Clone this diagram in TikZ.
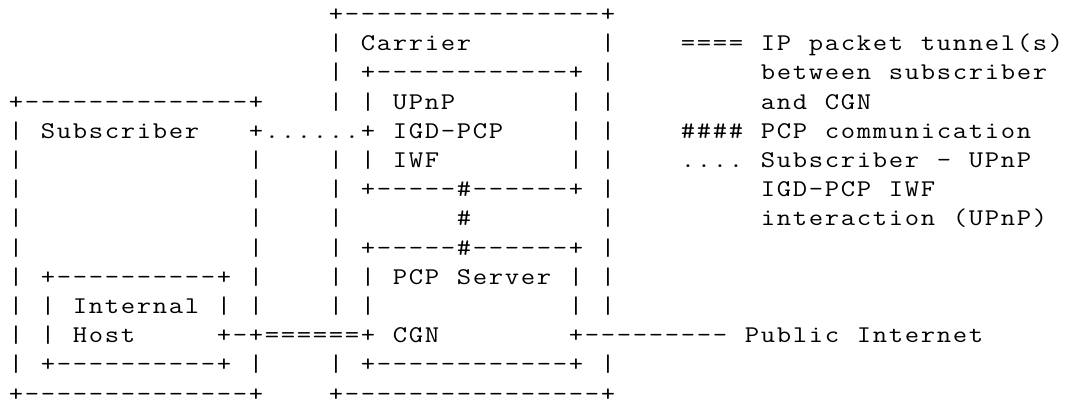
\documentclass[tikz,border=0pt]{standalone}
\usepackage{graphicx}
\makeatletter
% Monospaced grid: every character sits centred in a cell of fixed width,
% slightly widened so the letters fill their cells like a typewriter face.
\newdimen\cellw \cellw=8pt
\def\gt@stop{\gt@stop}
\newcommand\gridtext[1]{\gt@next#1\gt@stop}
\def\gt@next#1{\ifx#1\gt@stop\else\hbox to \cellw{\hss\scalebox{1.16}[1]{#1}\hss}\expandafter\gt@next\fi}
% Put a run of characters starting at a given column of the row.
\newcommand\putcol[2]{\rlap{\hskip#1\cellw\gridtext{#2}}}
\makeatother
\tikzset{
  asciirow/.style={anchor=base west, inner sep=0pt, outer sep=0pt,
    font=\ttfamily\fontsize{12pt}{14pt}\selectfont, text=black},
}
\newcommand\rowat[1]{(7,{21.5+29.2*(#1-1)})}
\begin{document}
\begin{tikzpicture}[x=0.5pt,y=-0.5pt]
\fill[white] (0,0) rectangle (1066,404);
\useasboundingbox (0,0) rectangle (1066,404);

\node[asciirow] (r1) at \rowat{1} {\putcol{20}{+----------------+}};
\node[asciirow] (r2) at \rowat{2} {\putcol{20}{|}\putcol{22}{Carrier}\putcol{37}{|}\putcol{42}{====}\putcol{47}{IP~packet~tunnel(s)}};
\node[asciirow] (r3) at \rowat{3} {\putcol{20}{|}\putcol{22}{+------------+}\putcol{37}{|}\putcol{47}{between~subscriber}};
\node[asciirow] (r4) at \rowat{4} {\putcol{0}{+--------------+}\putcol{20}{|}\putcol{22}{|}\putcol{24}{UPnP}\putcol{35}{|}\putcol{37}{|}\putcol{47}{and~CGN}};
\node[asciirow] (r5) at \rowat{5} {\putcol{0}{|}\putcol{2}{Subscriber}\putcol{15}{+......+}\putcol{24}{IGD-PCP}\putcol{35}{|}\putcol{37}{|}\putcol{42}{\#\#\#\#}\putcol{47}{PCP~communication}};
\node[asciirow] (r6) at \rowat{6} {\putcol{0}{|}\putcol{15}{|}\putcol{20}{|}\putcol{22}{|}\putcol{24}{IWF}\putcol{35}{|}\putcol{37}{|}\putcol{42}{....}\putcol{47}{Subscriber~-~UPnP}};
\node[asciirow] (r7) at \rowat{7} {\putcol{0}{|}\putcol{15}{|}\putcol{20}{|}\putcol{22}{+-----\#------+}\putcol{37}{|}\putcol{47}{IGD-PCP~IWF}};
\node[asciirow] (r8) at \rowat{8} {\putcol{0}{|}\putcol{15}{|}\putcol{20}{|}\putcol{28}{\#}\putcol{37}{|}\putcol{47}{interaction~(UPnP)}};
\node[asciirow] (r9) at \rowat{9} {\putcol{0}{|}\putcol{15}{|}\putcol{20}{|}\putcol{22}{+-----\#------+}\putcol{37}{|}};
\node[asciirow] (r10) at \rowat{10} {\putcol{0}{|}\putcol{2}{+----------+}\putcol{15}{|}\putcol{20}{|}\putcol{22}{|}\putcol{24}{PCP~Server}\putcol{35}{|}\putcol{37}{|}};
\node[asciirow] (r11) at \rowat{11} {\putcol{0}{|}\putcol{2}{|}\putcol{4}{Internal}\putcol{13}{|}\putcol{15}{|}\putcol{20}{|}\putcol{22}{|}\putcol{35}{|}\putcol{37}{|}};
\node[asciirow] (r12) at \rowat{12} {\putcol{0}{|}\putcol{2}{|}\putcol{4}{Host}\putcol{13}{+-+======+}\putcol{24}{CGN}\putcol{35}{+---------}\putcol{46}{Public~Internet}};
\node[asciirow] (r13) at \rowat{13} {\putcol{0}{|}\putcol{2}{+----------+}\putcol{15}{|}\putcol{20}{|}\putcol{22}{+------------+}\putcol{37}{|}};
\node[asciirow] (r14) at \rowat{14} {\putcol{0}{+--------------+}\putcol{20}{+----------------+}};
\end{tikzpicture}
\end{document}
